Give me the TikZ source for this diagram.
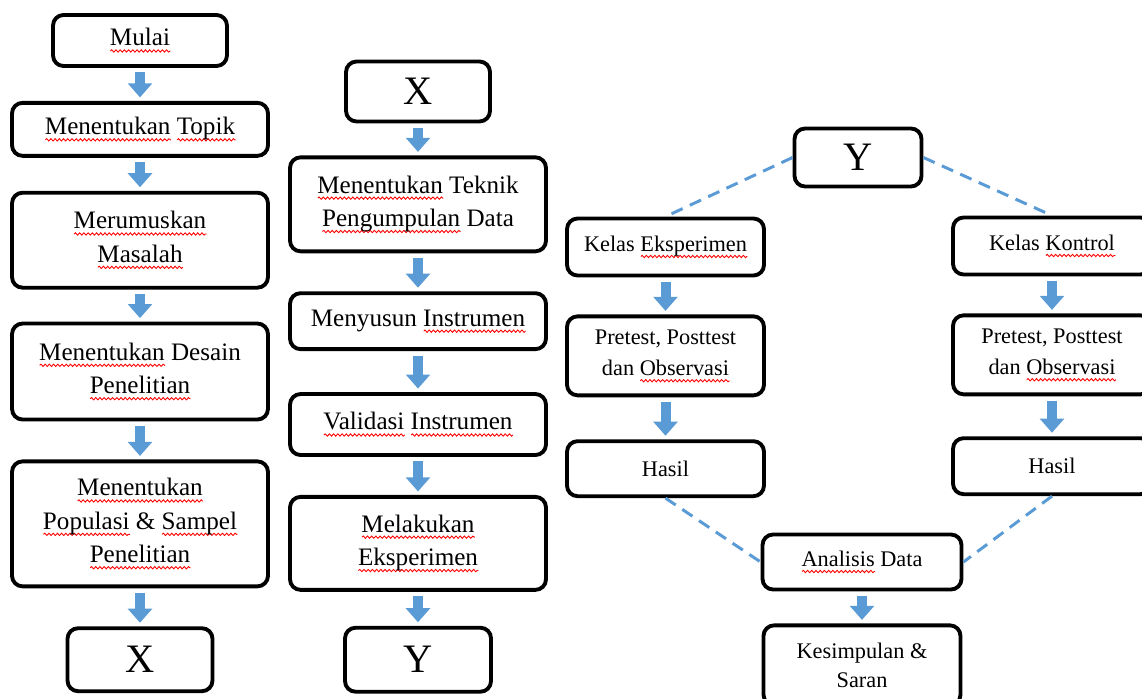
\documentclass[tikz,border=0pt]{standalone}
\usepackage{fontspec}
\setmainfont{Liberation Serif}
\usetikzlibrary{positioning,arrows.meta,decorations.pathmorphing}
\definecolor{arrowblue}{HTML}{5B9BD5}
% red wavy underline, as the spell checker draws it
\newlength\splw
\newcommand\spl[1]{\settowidth\splw{#1}\rlap{\tikz[baseline=0pt]\draw[red,sharp corners,solid,line width=0.5pt,decorate,
		decoration={snake,amplitude=0.65pt,segment length=2.4pt}] (0pt,-2.9pt) -- (\splw,-2.9pt);}#1}

\begin{document}
\begin{tikzpicture}[x=0.02cm,y=0.02cm,node distance=0.66cm,
	box node/.style={draw,line width=2.2pt,rounded corners=6pt,align=center,inner sep=2pt,
		font=\fontsize{14.3}{19}\selectfont},
	small node/.style={box node,font=\fontsize{12.7}{18}\selectfont},
	letter node/.style={box node,font=\fontsize{23}{26}\selectfont},
	block/.style={arrowblue,line width=5.7pt,-{Triangle[length=8pt,width=13.5pt]},
		shorten <=2.5pt,shorten >=2pt},
	dash line/.style={arrowblue,line width=1.7pt,dash pattern=on 7pt off 4.5pt}]
	\useasboundingbox (0,0) rectangle (1142,-699);
	
	% first column
	\node[box node,minimum width=3.48cm,minimum height=1.02cm] (mulai) at (140,-40.5) {\spl{Mulai}};
	\node[box node,minimum width=5.12cm,minimum height=1.06cm,below=0.66cm of mulai] (topik) {\spl{Menentukan} \spl{Topik}};
	\node[box node,minimum width=5.12cm,minimum height=1.9cm,below=0.66cm of topik] (masalah) {\spl{Merumuskan}\\\spl{Masalah}};
	\node[box node,minimum width=5.12cm,minimum height=1.92cm,below=0.64cm of masalah] (desain) {\spl{Menentukan} Desain\\\spl{Penelitian}};
	\node[box node,minimum width=5.12cm,minimum height=2.5cm,below=0.76cm of desain] (populasi) {\spl{Menentukan}\\\spl{Populasi} \& \spl{Sampel}\\\spl{Penelitian}};
	\node[letter node,minimum width=2.9cm,minimum height=1.26cm,below=0.76cm of populasi] (x1) {X};
	
	% second column
	\node[letter node,minimum width=2.88cm,minimum height=1.2cm] (x2) at (418,-91.5) {X};
	\node[box node,minimum width=5.12cm,minimum height=1.88cm,below=0.64cm of x2] (teknik) {\spl{Menentukan} Teknik\\\spl{Pengumpulan} Data};
	\node[box node,minimum width=5.12cm,minimum height=1.12cm,below=0.76cm of teknik] (susun) {Menyusun \spl{Instrumen}};
	\node[box node,minimum width=5.12cm,minimum height=1.22cm,below=0.82cm of susun] (validasi) {\spl{Validasi} \spl{Instrumen}};
	\node[box node,minimum width=5.12cm,minimum height=1.86cm,below=0.76cm of validasi] (eksperimen) {\spl{Melakukan}\\\spl{Eksperimen}};
	\node[letter node,minimum width=2.92cm,minimum height=1.28cm,below=0.68cm of eksperimen] (y1) {Y};
	
	% third part
	\node[letter node,minimum width=2.54cm,minimum height=1.16cm] (y2) at (858,-157.5) {Y};
	\node[small node,minimum width=3.94cm,minimum height=1.14cm] (ke) at (665.5,-247) {Kelas \spl{Eksperimen}};
	\node[small node,minimum width=3.94cm,minimum height=1.58cm,below=0.74cm of ke] (pe) {Pretest, Posttest\\dan \spl{Observasi}};
	\node[small node,minimum width=3.94cm,minimum height=1.1cm,below=0.84cm of pe] (he) {Hasil};
	\node[small node,minimum width=3.96cm,minimum height=1.14cm] (kk) at (1052,-246) {Kelas \spl{Kontrol}};
	\node[small node,minimum width=3.96cm,minimum height=1.58cm,below=0.74cm of kk] (pk) {Pretest, Posttest\\dan \spl{Observasi}};
	\node[small node,minimum width=3.96cm,minimum height=1.12cm,below=0.8cm of pk] (hk) {Hasil};
	\node[small node,minimum width=3.98cm,minimum height=1.1cm] (analisis) at (862,-562) {\spl{Analisis} Data};
	\node[small node,minimum width=3.94cm,minimum height=1.6cm,below=0.64cm of analisis,
		font=\fontsize{12.7}{16.5}\selectfont] (kesimpulan) {Kesimpulan \&\\Saran};
	
	\path[block]
	(mulai) edge (topik)
	(topik) edge (masalah)
	(masalah) edge (desain)
	(desain) edge (populasi)
	(populasi) edge (x1)
	(x2) edge (teknik)
	(teknik) edge (susun)
	(susun) edge (validasi)
	(validasi) edge (eksperimen)
	(eksperimen) edge (y1)
	(ke) edge (pe)
	(pe) edge (he)
	(kk) edge (pk)
	(pk) edge (hk)
	(analisis) edge (kesimpulan);
	
	\path[dash line]
	(y2.west) edge (ke.north)
	(y2.east) edge (kk.north)
	(he.south) edge (analisis.west)
	(hk.south) edge (analisis.east);
\end{tikzpicture}
\end{document}
